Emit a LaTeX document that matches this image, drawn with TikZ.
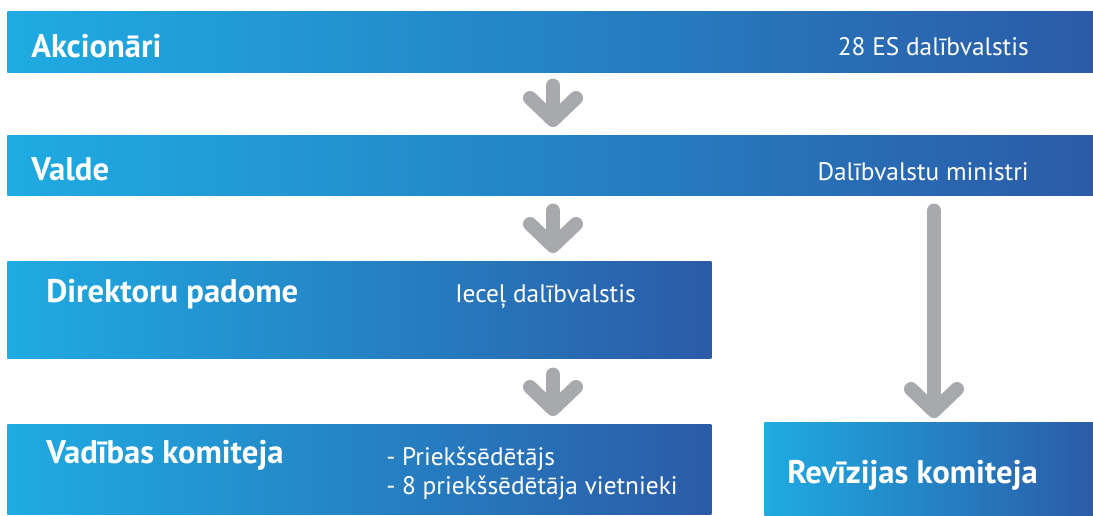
\documentclass[tikz,border=0pt]{standalone}
\usepackage{fontspec}
\setmainfont{PT Sans}
\usepackage{tikz}
\usetikzlibrary{arrows.meta, positioning, calc}
\definecolor{bandcyan}{RGB}{31,171,226}
\definecolor{bandblue}{RGB}{43,91,167}
\definecolor{arrowgray}{RGB}{167,169,172}

\begin{document}
\begin{tikzpicture}[
    x=0.75pt, y=-0.75pt,
    every node/.style={text=white, inner sep=0pt},
    band/.style 2 args={draw=none, left color=bandcyan, right color=bandblue,
      anchor=north west, minimum width=#1*0.75pt, minimum height=#2*0.75pt},
    head/.style={font=\bfseries\fontsize{24.5}{28}\selectfont, anchor=base west},
    note/.style={font=\fontsize{19}{22}\selectfont},
    darr/.style={draw=arrowgray, line width=10.5pt, line cap=round,
      -{Straight Barb[round, length=16.5pt, width=34.5pt]}}
  ]
  \useasboundingbox (0,0) rectangle (1093,515);

  % Bands
  \node[band={1086}{61}] (akc) at (7,11) {};
  \node[band={1086}{60}] (val) at (7,135) {};
  \node[band={704}{97}] (dir) at (7,261) {};
  \node[band={704}{90}] (vad) at (7,424) {};
  \node[band={329}{93}] (rev) at (764,422) {};

  % Texts
  \node[head] (akct) at (31,57) {Akcionāri};
  \node[note, anchor=base east] (akcn) at (1029,55) {28 ES dalībvalstis};
  \node[head] (valt) at (31,180) {Valde};
  \node[note, anchor=base east] (valn) at (1029,180) {Dalībvalstu ministri};
  \node[head] (dirt) at (46,302) {Direktoru padome};
  \node[note, anchor=base west] (dirn) at (455,302) {Ieceļ dalībvalstis};
  \node[head] (vadt) at (46,463) {Vadības komiteja};
  \node[note, anchor=base west] (vadn1) at (386,465) {- Priekšsēdētājs};
  \node[note, anchor=base west] (vadn2) at (386,494) {- 8 priekšsēdētāja vietnieki};
  \node[head] (revt) at (787,483) {Revīzijas komiteja};

  % Arrows
  \coordinate (mid) at (553,0);
  \coordinate (side) at (934,0);
  \draw[darr, shorten <=9.75pt, shorten >=6pt] (akc.south -| mid) -- (val.north -| mid);
  \draw[darr, shorten <=11.25pt, shorten >=6pt] (val.south -| mid) -- (dir.north -| mid);
  \draw[darr, shorten <=12pt, shorten >=6pt] (dir.south -| mid) -- (vad.north -| mid);
  \draw[darr, shorten <=11.25pt, shorten >=3pt] (val.south -| side) -- (rev.north -| side);
\end{tikzpicture}
\end{document}
